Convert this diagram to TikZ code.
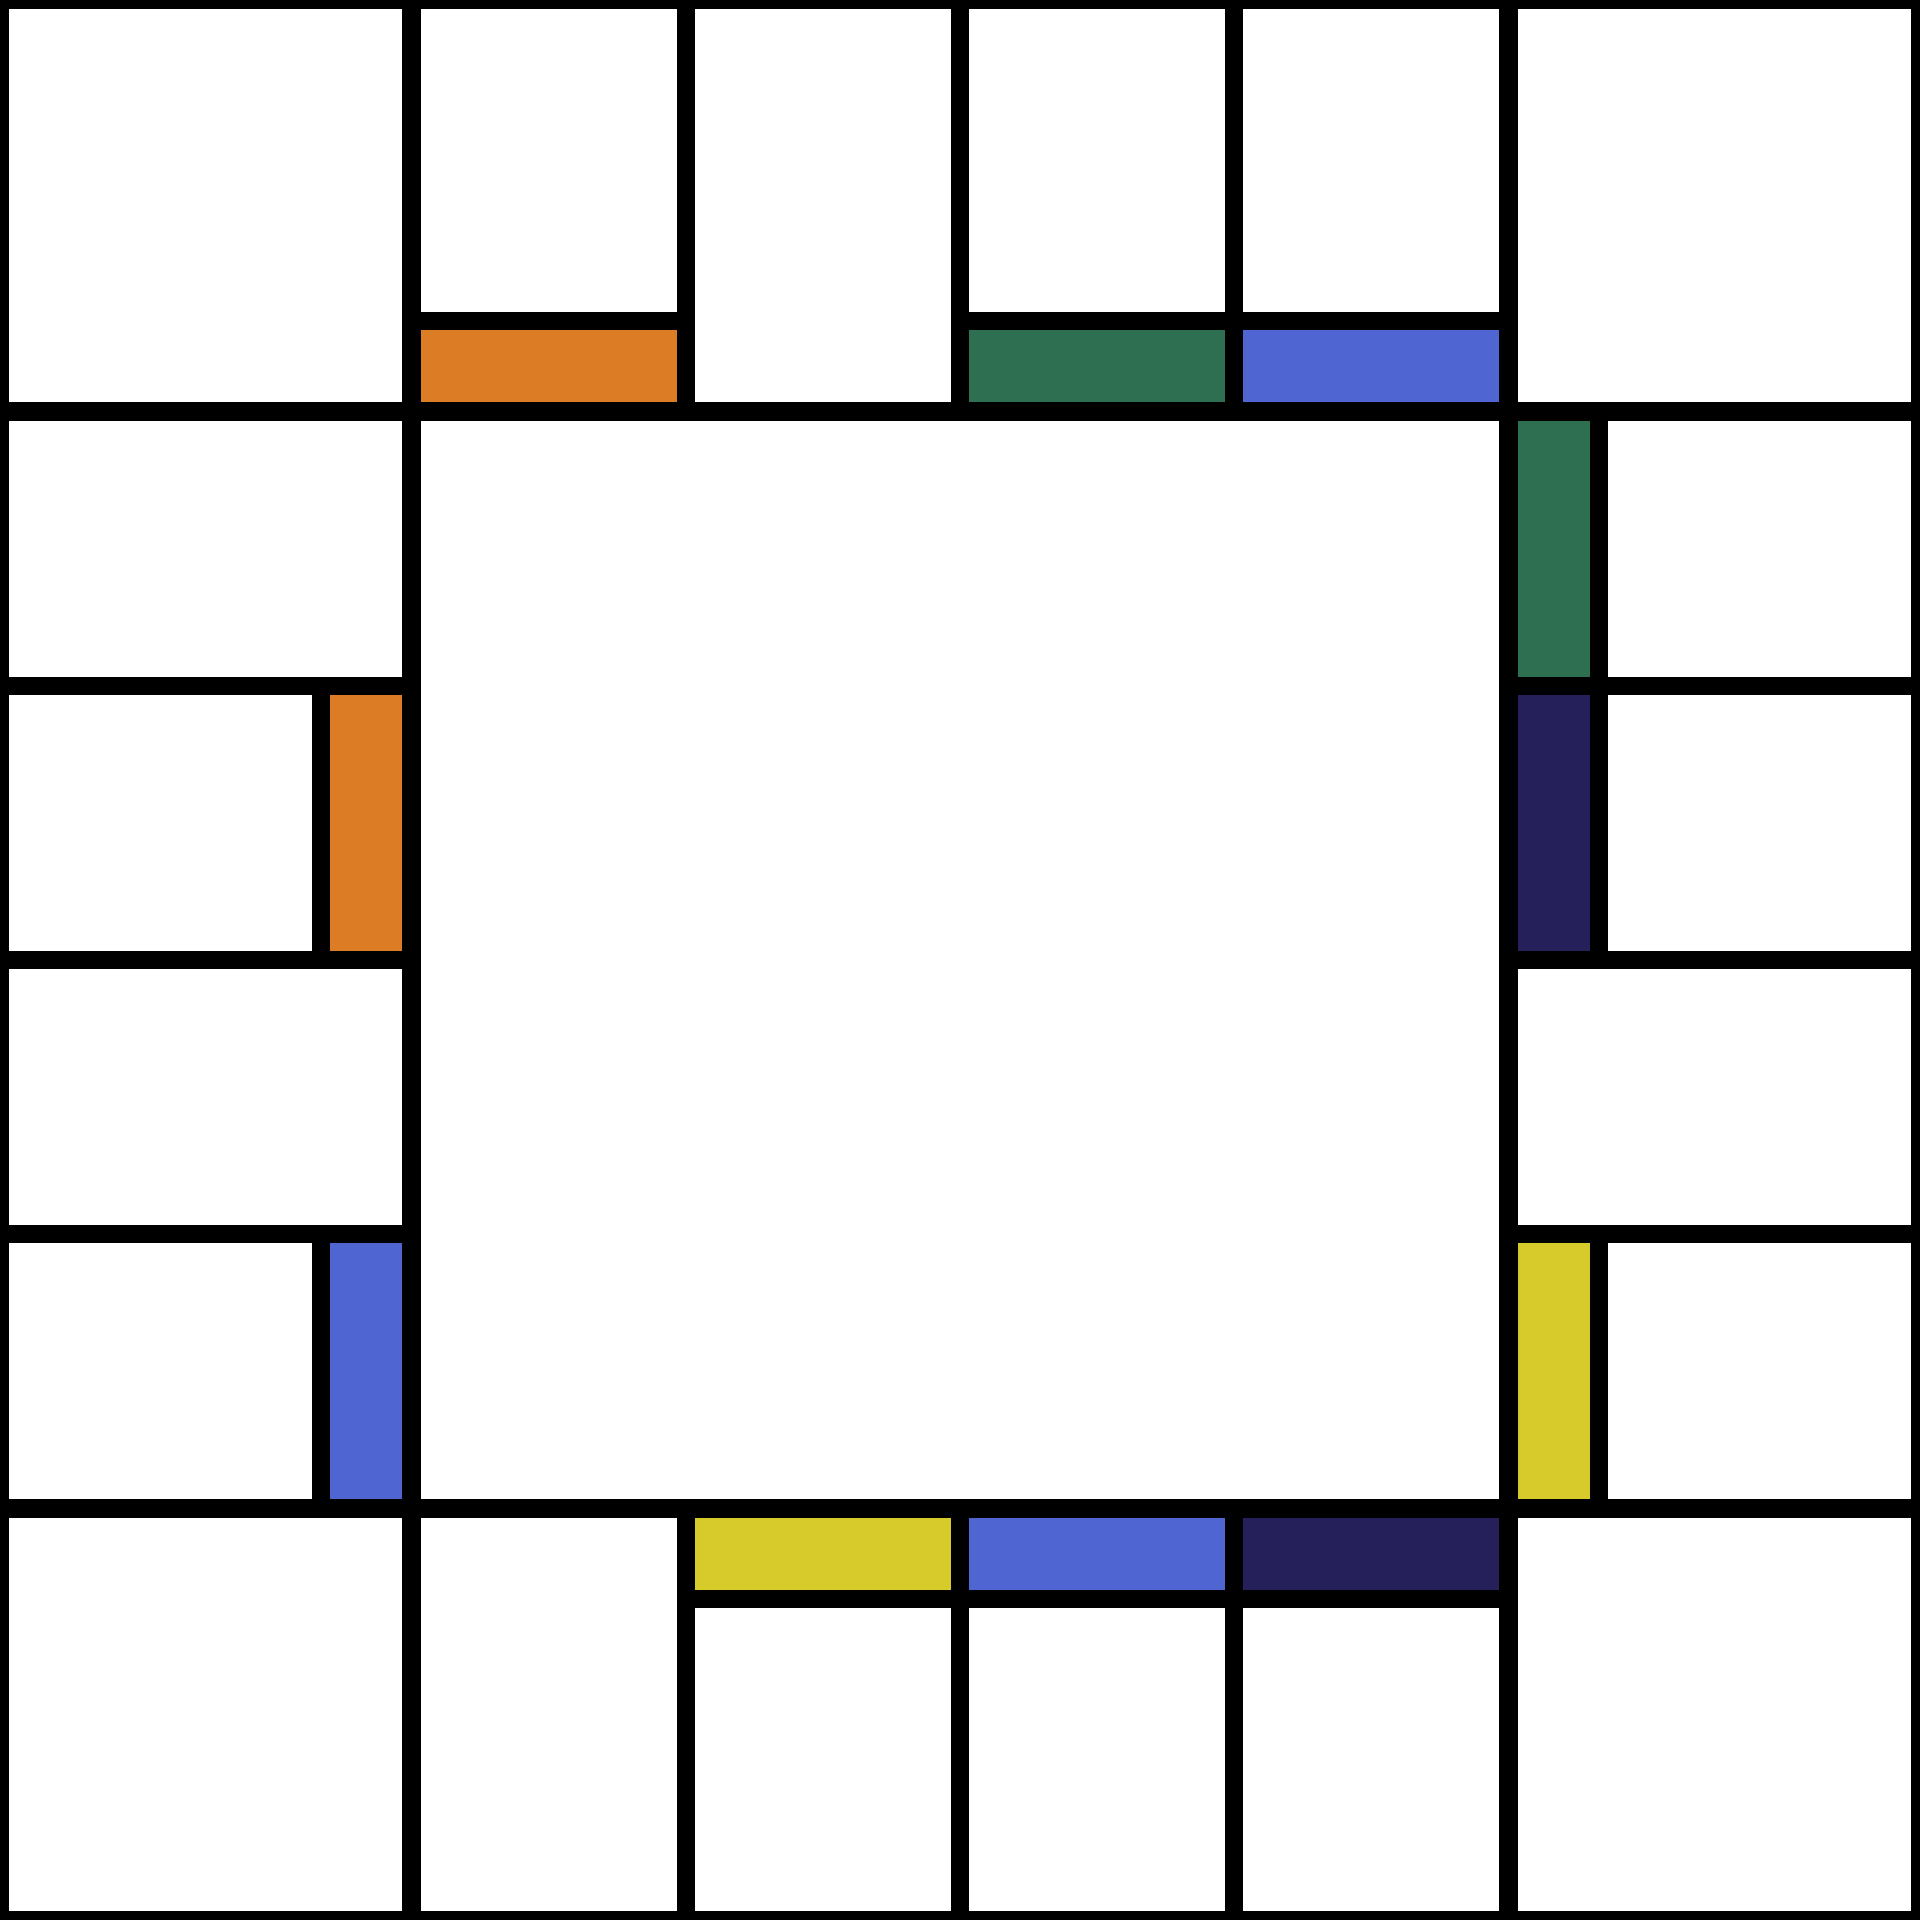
\documentclass[tikz,border=0pt]{standalone}
\usepackage{tikz}
\usepackage{xcolor}
\definecolor{lotorange}{HTML}{DC7D26}
\definecolor{lotgreen}{HTML}{2F6F51}
\definecolor{lotblue}{HTML}{4F66D2}
\definecolor{lotnavy}{HTML}{25205A}
\definecolor{lotyellow}{HTML}{D7CB2C}

\begin{document}
\begin{tikzpicture}[line join=miter,
  cell/.style={draw=black,fill=white,line width=3.8pt},
  band/.style={draw=black,line width=3.8pt,fill=#1}]
\useasboundingbox (0,0) rectangle (14,14);
\fill[white] (0,0) rectangle (14,14);
% corners
\draw[cell] (0,11) rectangle (3,14);
\draw[cell] (11,11) rectangle (14,14);
\draw[cell] (0,0) rectangle (3,3);
\draw[cell] (11,0) rectangle (14,3);
% top row
\draw[cell] (3,11) rectangle (5,14);
\draw[cell] (5,11) rectangle (7,14);
\draw[cell] (7,11) rectangle (9,14);
\draw[cell] (9,11) rectangle (11,14);
\draw[band=lotorange] (3,11) rectangle (5,11.66);
\draw[band=lotgreen] (7,11) rectangle (9,11.66);
\draw[band=lotblue] (9,11) rectangle (11,11.66);
% left column
\draw[cell] (0,9) rectangle (3,11);
\draw[cell] (0,7) rectangle (3,9);
\draw[cell] (0,5) rectangle (3,7);
\draw[cell] (0,3) rectangle (3,5);
\draw[band=lotorange] (2.34,7) rectangle (3,9);
\draw[band=lotblue] (2.34,3) rectangle (3,5);
% right column
\draw[cell] (11,9) rectangle (14,11);
\draw[cell] (11,7) rectangle (14,9);
\draw[cell] (11,5) rectangle (14,7);
\draw[cell] (11,3) rectangle (14,5);
\draw[band=lotgreen] (11,9) rectangle (11.66,11);
\draw[band=lotnavy] (11,7) rectangle (11.66,9);
\draw[band=lotyellow] (11,3) rectangle (11.66,5);
% bottom row
\draw[cell] (3,0) rectangle (5,3);
\draw[cell] (5,0) rectangle (7,3);
\draw[cell] (7,0) rectangle (9,3);
\draw[cell] (9,0) rectangle (11,3);
\draw[band=lotyellow] (5,2.34) rectangle (7,3);
\draw[band=lotblue] (7,2.34) rectangle (9,3);
\draw[band=lotnavy] (9,2.34) rectangle (11,3);
\end{tikzpicture}
\end{document}
